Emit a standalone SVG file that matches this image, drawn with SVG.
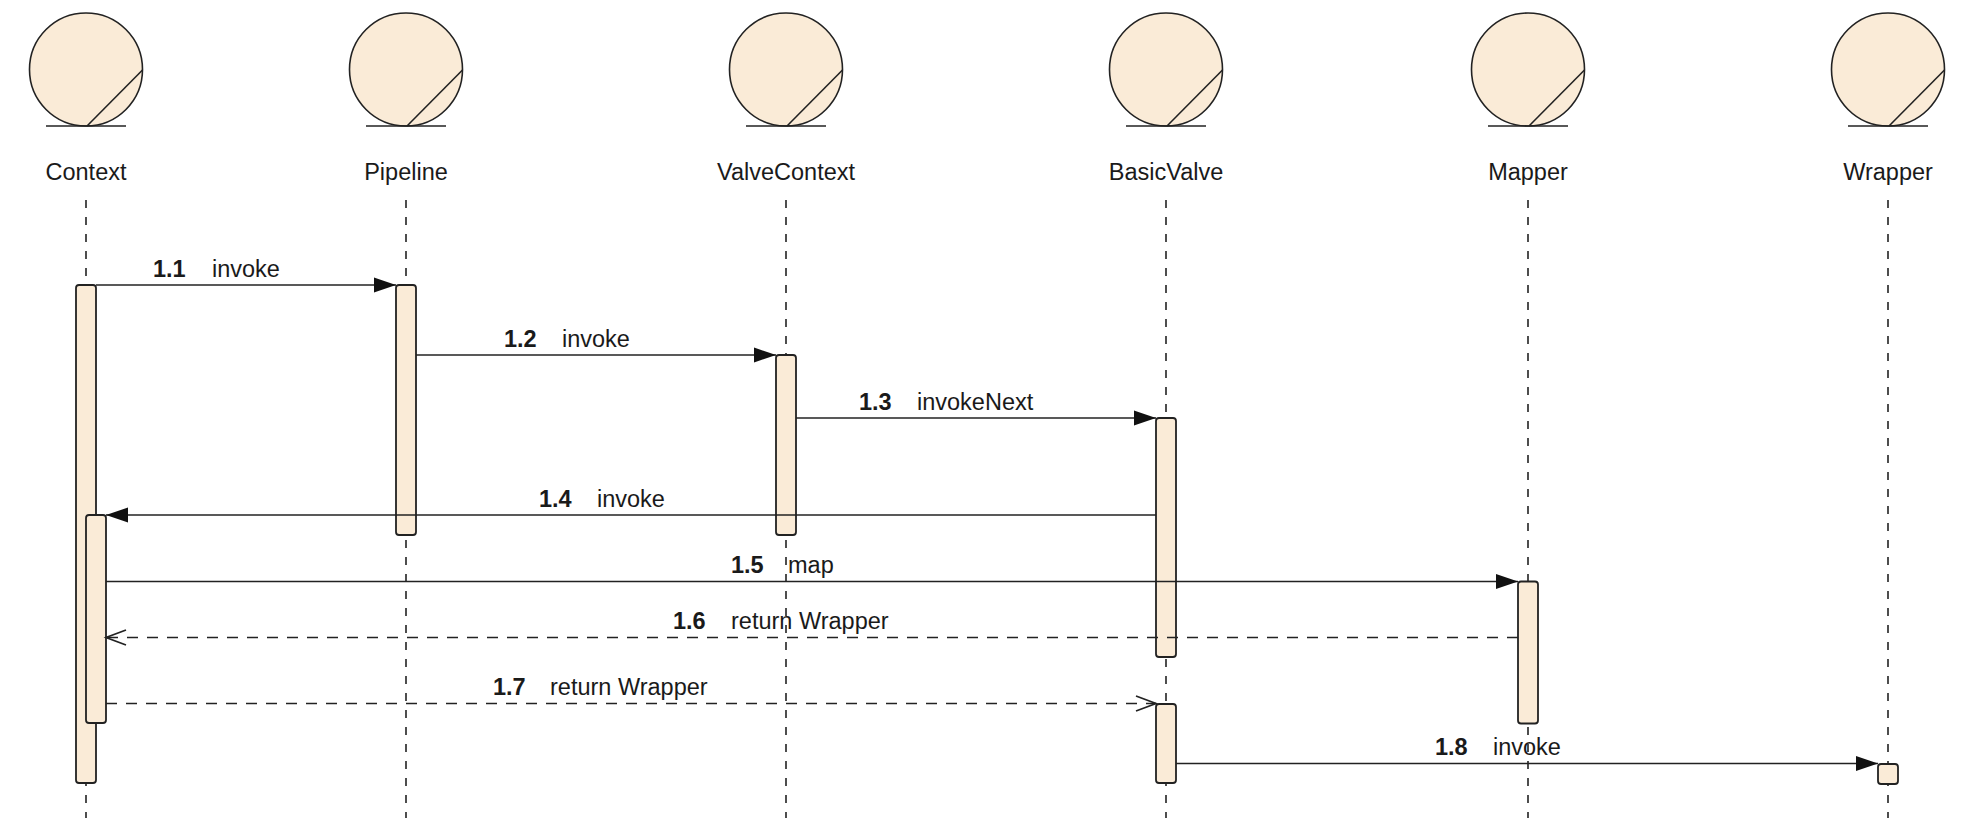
<svg xmlns="http://www.w3.org/2000/svg" width="1968" height="820" viewBox="0 0 1968 820">
<style>
  .name { font-family: "Liberation Sans", Arial, sans-serif; font-size: 23.5px; fill: #1a1a1a; text-anchor: middle; }
  .life { stroke: #222; stroke-width: 1.6; stroke-dasharray: 8 9; fill: none; }
  .act { fill: #FAEBD7; stroke: #222; stroke-width: 1.8; }
  .msg { stroke: #222; stroke-width: 1.7; fill: none; }
  .sync { marker-end: url(#filled); }
  .ret { stroke-dasharray: 11 9; marker-end: url(#open); }
  .num { font-family: "Liberation Sans", Arial, sans-serif; font-size: 23.5px; font-weight: bold; fill: #1a1a1a; }
  .lbl { font-family: "Liberation Sans", Arial, sans-serif; font-size: 23.5px; fill: #1a1a1a; }
</style>
<defs>
  <symbol id="entity" overflow="visible">
    <circle cx="0" cy="69.5" r="56.5" fill="#FAEBD7" stroke="#222" stroke-width="1.6"/>
    <line x1="1" y1="126" x2="56.5" y2="70" stroke="#222" stroke-width="1.6"/>
    <line x1="-40" y1="126" x2="40" y2="126" stroke="#222" stroke-width="1.6"/>
  </symbol>
  <marker id="filled" markerUnits="userSpaceOnUse" markerWidth="24" markerHeight="16" refX="22" refY="7.5" orient="auto" overflow="visible">
    <path d="M0,0 L22,7.5 L0,15 Z" fill="#111"/>
  </marker>
  <marker id="open" markerUnits="userSpaceOnUse" markerWidth="24" markerHeight="16" refX="20" refY="7.5" orient="auto" overflow="visible">
    <path d="M0,0 L20,7.5 L0,15" fill="none" stroke="#222" stroke-width="1.7"/>
  </marker>
</defs>
<rect width="1968" height="820" fill="#fff"/>

<g id="lifelines">
  <line class="life" x1="86" y1="200" x2="86" y2="818"/>
  <line class="life" x1="406" y1="200" x2="406" y2="818"/>
  <line class="life" x1="786" y1="200" x2="786" y2="818"/>
  <line class="life" x1="1166" y1="200" x2="1166" y2="818"/>
  <line class="life" x1="1528" y1="200" x2="1528" y2="818"/>
  <line class="life" x1="1888" y1="200" x2="1888" y2="818"/>
</g>

<g id="node-context">
  <use href="#entity" x="86" y="0"/>
  <text class="name" x="86" y="180">Context</text>
  <rect class="act" x="76" y="285" width="20" height="498" rx="3"/>
  <rect class="act" x="86" y="515" width="20" height="208" rx="3"/>
</g>
<g id="node-pipeline">
  <use href="#entity" x="406" y="0"/>
  <text class="name" x="406" y="180">Pipeline</text>
  <rect class="act" x="396" y="285" width="20" height="250" rx="3"/>
</g>
<g id="node-valvecontext">
  <use href="#entity" x="786" y="0"/>
  <text class="name" x="786" y="180">ValveContext</text>
  <rect class="act" x="776" y="355" width="20" height="180" rx="3"/>
</g>
<g id="node-basicvalve">
  <use href="#entity" x="1166" y="0"/>
  <text class="name" x="1166" y="180">BasicValve</text>
  <rect class="act" x="1156" y="418" width="20" height="239" rx="3"/>
  <rect class="act" x="1156" y="704" width="20" height="79" rx="3"/>
</g>
<g id="node-mapper">
  <use href="#entity" x="1528" y="0"/>
  <text class="name" x="1528" y="180">Mapper</text>
  <rect class="act" x="1518" y="581.5" width="20" height="142" rx="3"/>
</g>
<g id="node-wrapper">
  <use href="#entity" x="1888" y="0"/>
  <text class="name" x="1888" y="180">Wrapper</text>
  <rect class="act" x="1878" y="764" width="20" height="20" rx="3"/>
</g>

<g id="connectors">
  <line class="msg sync" x1="96" y1="285" x2="396" y2="285"/>
  <line class="msg sync" x1="416" y1="355" x2="776" y2="355"/>
  <line class="msg sync" x1="796" y1="418" x2="1156" y2="418"/>
  <line class="msg sync" x1="1156" y1="515" x2="106" y2="515"/>
  <line class="msg sync" x1="106" y1="581.5" x2="1518" y2="581.5"/>
  <line class="msg ret" x1="1518" y1="637.5" x2="106" y2="637.5"/>
  <line class="msg ret" x1="106" y1="703.5" x2="1156" y2="703.5"/>
  <line class="msg sync" x1="1176" y1="763.5" x2="1878" y2="763.5"/>
</g>

<g id="labels">
  <text class="num" x="153" y="277">1.1</text><text class="lbl" x="212" y="277">invoke</text>
  <text class="num" x="504" y="347">1.2</text><text class="lbl" x="562" y="347">invoke</text>
  <text class="num" x="859" y="410">1.3</text><text class="lbl" x="917" y="410">invokeNext</text>
  <text class="num" x="539" y="507">1.4</text><text class="lbl" x="597" y="507">invoke</text>
  <text class="num" x="731" y="573">1.5</text><text class="lbl" x="788" y="573">map</text>
  <text class="num" x="673" y="629">1.6</text><text class="lbl" x="731" y="629">return Wrapper</text>
  <text class="num" x="493" y="695">1.7</text><text class="lbl" x="550" y="695">return Wrapper</text>
  <text class="num" x="1435" y="755">1.8</text><text class="lbl" x="1493" y="755">invoke</text>
</g>
</svg>
